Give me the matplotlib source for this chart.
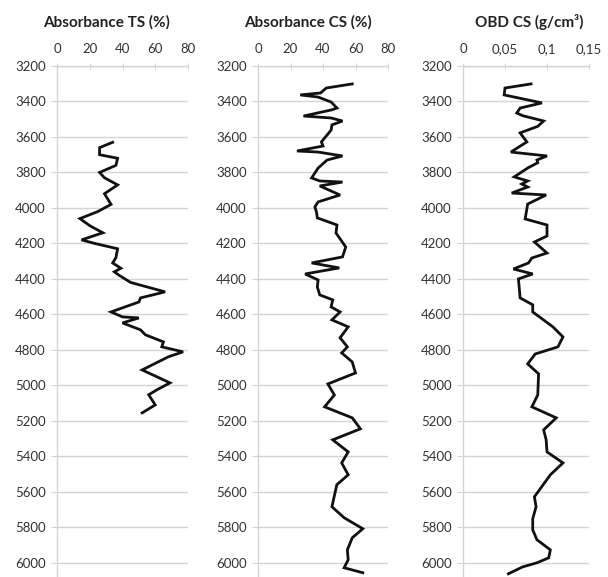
import matplotlib
matplotlib.use("Agg")
import matplotlib.pyplot as plt
import numpy as np

# ---- data ----
depth_ts = [3630, 3660, 3700, 3720, 3760, 3800, 3830, 3870, 3920, 3980, 4020, 4060, 4100,
            4140, 4180, 4200, 4230, 4280, 4310, 4340, 4360, 4380, 4420, 4473, 4507, 4530,
            4586, 4614, 4620, 4648, 4687, 4715, 4755, 4783, 4811, 4839, 4913, 4986, 5025,
            5053, 5110, 5155]
abs_ts = [34, 26, 26, 37, 36, 26, 29, 37, 29, 33, 25, 14, 20, 28, 15, 23, 37, 36, 34, 39,
          35, 38, 45, 66, 51, 50, 33, 40, 50, 40, 51, 54, 65, 64, 77, 68, 52, 69, 61, 56,
          60, 52]

depth_cs = [3301, 3324, 3352, 3363, 3375, 3403, 3437, 3448, 3482, 3493, 3510, 3532, 3561,
            3589, 3628, 3651, 3679, 3685, 3707, 3730, 3775, 3831, 3848, 3854, 3876, 3927,
            3966, 3994, 4023, 4056, 4096, 4141, 4220, 4276, 4310, 4338, 4372, 4406, 4445,
            4490, 4518, 4558, 4586, 4631, 4670, 4732, 4783, 4817, 4868, 4930, 4992, 5054,
            5121, 5183, 5245, 5307, 5375, 5437, 5504, 5560, 5684, 5746, 5808, 5859, 5927,
            5983, 6028, 6056]
abs_cs = [58, 42, 38.5, 26, 37, 45, 48.6, 45, 28, 45, 52, 45.5, 45, 42.5, 39, 40, 24, 37,
          52, 42.5, 37, 33, 38, 52, 38, 50.5, 37, 35, 36, 36.5, 48.6, 48, 54, 52, 33, 50,
          29, 37, 36.5, 38, 46, 45, 50.5, 45.5, 55.5, 50.5, 55, 51.5, 58, 60, 43, 47, 41,
          58, 63, 46, 55.5, 51.5, 55.5, 48.5, 45.5, 53, 64.5, 58, 55, 55.5, 53, 64.5]

depth_obd = [3301, 3324, 3363, 3408, 3437, 3465, 3480, 3510, 3540, 3577, 3628, 3685, 3707,
             3730, 3745, 3775, 3825, 3848, 3865, 3882, 3916, 3927, 3978, 4062, 4096, 4158,
             4192, 4254, 4282, 4310, 4344, 4372, 4400, 4507, 4546, 4586, 4670, 4727, 4783,
             4823, 4879, 4935, 5054, 5121, 5183, 5251, 5307, 5375, 5437, 5504, 5628, 5684,
             5752, 5814, 5870, 5927, 5972, 6000, 6023, 6062]
obd_cs = [0.081, 0.050, 0.049, 0.094, 0.068, 0.064, 0.071, 0.096, 0.089, 0.068, 0.076,
          0.057, 0.100, 0.088, 0.089, 0.077, 0.061, 0.077, 0.070, 0.077, 0.058, 0.099,
          0.077, 0.074, 0.100, 0.100, 0.085, 0.100, 0.082, 0.078, 0.060, 0.083, 0.066,
          0.068, 0.083, 0.083, 0.107, 0.119, 0.113, 0.086, 0.077, 0.090, 0.089, 0.082,
          0.111, 0.096, 0.099, 0.100, 0.119, 0.104, 0.085, 0.087, 0.083, 0.083, 0.088,
          0.104, 0.102, 0.088, 0.071, 0.054]

titles = ["Absorbance TS (%)", "Absorbance CS (%)", "OBD CS (g/cm\u00b3)"]
xticks_pct = [0, 20, 40, 60, 80]
xticks_obd = [0, 0.05, 0.1, 0.15]
xticklabels_obd = ["0", "0,05", "0,1", "0,15"]
yticks = list(range(3200, 6001, 200))

plt.rcParams['font.family'] = ['Lato', 'DejaVu Sans']

W, H = 608, 577
fig = plt.figure(figsize=(W / 100, H / 100), dpi=100)
fig.patch.set_facecolor('white')

panels = [
    (57, 131, depth_ts, abs_ts, xticks_pct, [str(t) for t in xticks_pct], (0, 80), 107),
    (258, 130, depth_cs, abs_cs, xticks_pct, [str(t) for t in xticks_pct], (0, 80), 308),
    (463, 126, depth_obd, obd_cs, xticks_obd, xticklabels_obd, (0, 0.15), 529),
]
top_px, bot_px = 66, 577
grid_c = '#d4d4d4'
for i, (x0, w, d, v, xt, xtl, xl, tcx) in enumerate(panels):
    ax = fig.add_axes([x0 / W, 1 - bot_px / H, w / W, (bot_px - top_px) / H])
    ax.set_xlim(*xl)
    ax.set_ylim(6080, 3200)
    ax.plot(v, d, color='#111111', lw=2.0, solid_joinstyle='miter', zorder=3)
    ax.set_yticks(yticks)
    ax.set_yticklabels([str(t) for t in yticks], fontsize=9.5, color='#333333')
    ax.set_xticks(xt)
    ax.set_xticklabels(xtl, fontsize=9.5, color='#333333')
    ax.xaxis.tick_top()
    ax.tick_params(axis='x', direction='inout', length=4, color=grid_c, pad=6)
    ax.tick_params(axis='y', direction='out', length=4, color=grid_c, pad=4)
    for yv in yticks:
        ax.axhline(yv, color=grid_c, lw=1.0, zorder=1)
    for s in ['right', 'bottom']:
        ax.spines[s].set_visible(False)
    for s in ['left', 'top']:
        ax.spines[s].set_color(grid_c)
        ax.spines[s].set_linewidth(1.0)
    fig.text(tcx / W, 1 - 22 / H, titles[i], ha='center', va='center',
             fontsize=11, fontweight='bold', color='#222222')

fig.savefig('out.png', dpi=100, facecolor='white')
